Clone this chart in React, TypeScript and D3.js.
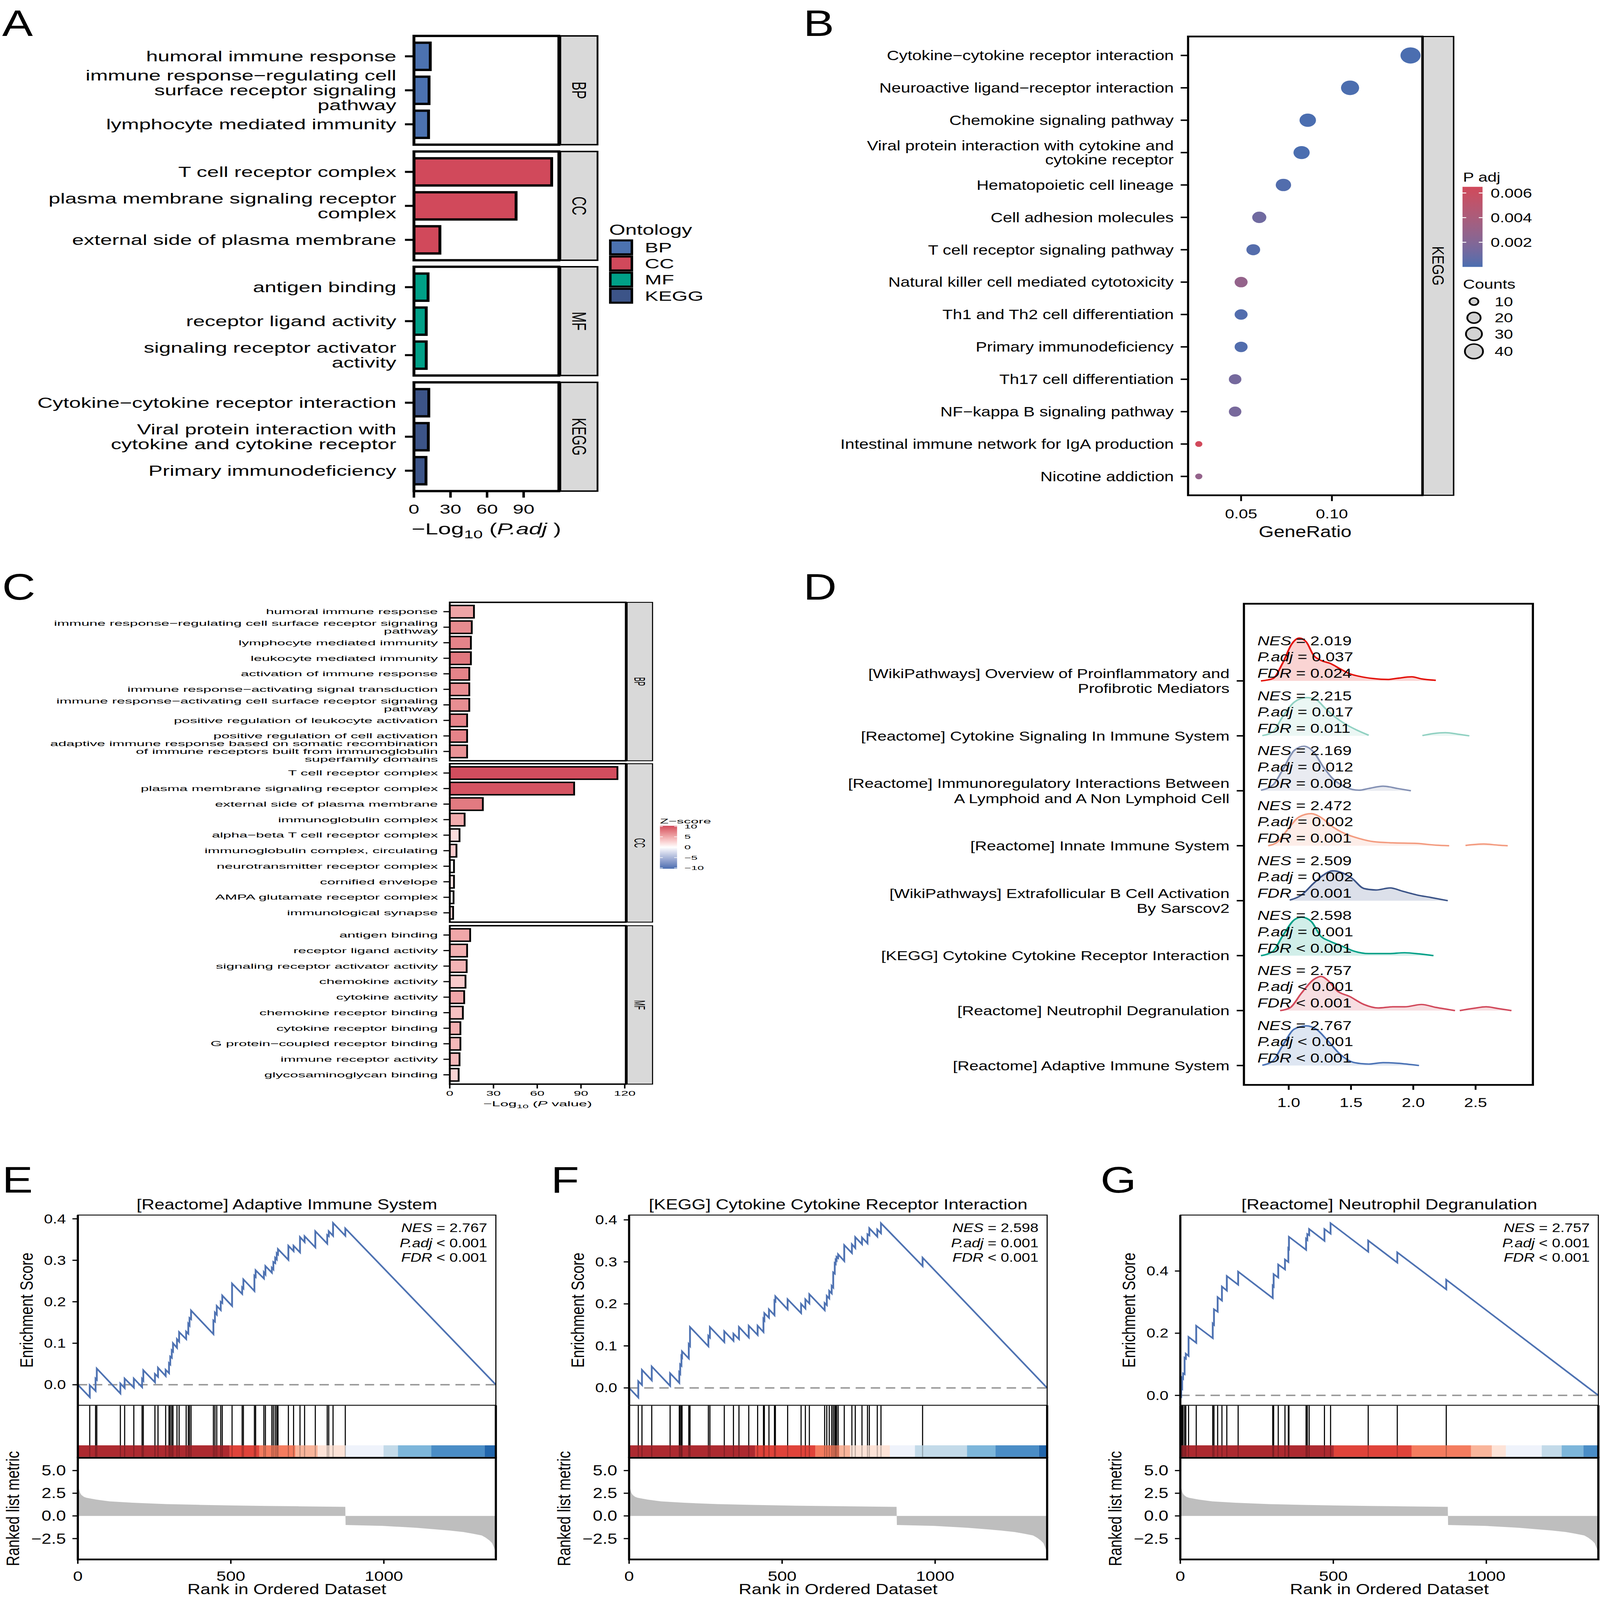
import React from "react";
import * as d3 from "d3";

const FONT = "'Liberation Sans', Arial, Helvetica, sans-serif";

// ================= Panel A data =================
const aTerms = [
  "humoral immune response",
  "immune response−regulating cell\nsurface receptor signaling\npathway",
  "lymphocyte mediated immunity",
  "T cell receptor complex",
  "plasma membrane signaling receptor\ncomplex",
  "external side of plasma membrane",
  "antigen binding",
  "receptor ligand activity",
  "signaling receptor activator\nactivity",
  "Cytokine−cytokine receptor interaction",
  "Viral protein interaction with\ncytokine and cytokine receptor",
  "Primary immunodeficiency",
];
const aOntology = ["BP", "BP", "BP", "CC", "CC", "CC", "MF", "MF", "MF", "KEGG", "KEGG", "KEGG"];
const aLogPadj = [13.4, 12.4, 12.0, 113.0, 83.8, 21.3, 11.6, 10.1, 10.1, 12.2, 11.8, 9.9];
const aOntologyLevels = ["BP", "CC", "MF", "KEGG"];
const aOntologyColors = ["#4C72B0", "#D1495B", "#00A087", "#3C5488"];
const aXTicks = [0, 30, 60, 90];

// ================= Panel B data =================
const bTerms = [
  "Cytokine−cytokine receptor interaction",
  "Neuroactive ligand−receptor interaction",
  "Chemokine signaling pathway",
  "Viral protein interaction with cytokine and\ncytokine receptor",
  "Hematopoietic cell lineage",
  "Cell adhesion molecules",
  "T cell receptor signaling pathway",
  "Natural killer cell mediated cytotoxicity",
  "Th1 and Th2 cell differentiation",
  "Primary immunodeficiency",
  "Th17 cell differentiation",
  "NF−kappa B signaling pathway",
  "Intestinal immune network for IgA production",
  "Nicotine addiction",
];
const bGeneRatio = [0.1433, 0.11, 0.0867, 0.0833, 0.0733, 0.06, 0.0567, 0.05, 0.05, 0.05, 0.0467, 0.0467, 0.0267, 0.0267];
const bCounts = [43, 33, 26, 25, 22, 18, 17, 15, 15, 15, 14, 14, 8, 8];
const bPadj = [0.00002, 0.00004, 0.00003, 0.00003, 0.0002, 0.0012, 0.0003, 0.0028, 0.0002, 0.0002, 0.0014, 0.0015, 0.0065, 0.0028];
const bRatioTicks = [0.05, 0.1];
const bPadjTicks = [0.002, 0.004, 0.006];
const bCountTicks = [10, 20, 30, 40];

// ================= Panel C data =================
const cTerms = [
  "humoral immune response",
  "immune response−regulating cell surface receptor signaling\npathway",
  "lymphocyte mediated immunity",
  "leukocyte mediated immunity",
  "activation of immune response",
  "immune response−activating signal transduction",
  "immune response−activating cell surface receptor signaling\npathway",
  "positive regulation of leukocyte activation",
  "positive regulation of cell activation",
  "adaptive immune response based on somatic recombination\nof immune receptors built from immunoglobulin\nsuperfamily domains",
  "T cell receptor complex",
  "plasma membrane signaling receptor complex",
  "external side of plasma membrane",
  "immunoglobulin complex",
  "alpha−beta T cell receptor complex",
  "immunoglobulin complex, circulating",
  "neurotransmitter receptor complex",
  "cornified envelope",
  "AMPA glutamate receptor complex",
  "immunological synapse",
  "antigen binding",
  "receptor ligand activity",
  "signaling receptor activator activity",
  "chemokine activity",
  "cytokine activity",
  "chemokine receptor binding",
  "cytokine receptor binding",
  "G protein−coupled receptor binding",
  "immune receptor activity",
  "glycosaminoglycan binding",
];
const cOntology = [
  "BP", "BP", "BP", "BP", "BP", "BP", "BP", "BP", "BP", "BP",
  "CC", "CC", "CC", "CC", "CC", "CC", "CC", "CC", "CC", "CC",
  "MF", "MF", "MF", "MF", "MF", "MF", "MF", "MF", "MF", "MF",
];
const cLogP = [
  16.6, 15.1, 14.5, 14.5, 13.4, 13.4, 13.4, 11.9, 11.9, 11.9,
  115.0, 85.3, 22.7, 10.2, 6.7, 4.6, 2.9, 2.9, 2.6, 2.3,
  14.0, 11.9, 11.6, 10.8, 9.9, 9.0, 7.3, 7.3, 6.7, 6.1,
];
const cZ = [
  5.2, 6.6, 7.0, 7.6, 7.0, 6.4, 6.4, 7.0, 7.0, 6.2,
  9.8, 9.5, 7.5, 4.7, 2.0, 3.0, 0.3, 1.5, 0.2, 2.5,
  5.0, 4.5, 4.3, 3.0, 5.0, 3.5, 4.5, 4.0, 4.0, 2.5,
];
const cOntologyLevels = ["BP", "CC", "MF"];
const cXTicks = [0, 30, 60, 90, 120];
const cZTicks = [10, 5, 0, -5, -10];

// ================= Panel D data =================
const dLabels = [
  "[WikiPathways] Overview of Proinflammatory and\nProfibrotic Mediators",
  "[Reactome] Cytokine Signaling In Immune System",
  "[Reactome] Immunoregulatory Interactions Between\nA Lymphoid and A Non Lymphoid Cell",
  "[Reactome] Innate Immune System",
  "[WikiPathways] Extrafollicular B Cell Activation\nBy Sarscov2",
  "[KEGG] Cytokine Cytokine Receptor Interaction",
  "[Reactome] Neutrophil Degranulation",
  "[Reactome] Adaptive Immune System",
];
const dNES = ["= 2.019", "= 2.215", "= 2.169", "= 2.472", "= 2.509", "= 2.598", "= 2.757", "= 2.767"];
const dPadj = ["= 0.037", "= 0.017", "= 0.012", "= 0.002", "= 0.002", "= 0.001", "< 0.001", "< 0.001"];
const dFDR = ["= 0.024", "= 0.011", "= 0.008", "= 0.001", "= 0.001", "< 0.001", "< 0.001", "< 0.001"];
const dColors = ["#E3120B", "#91D1C2", "#8491B4", "#F39B7F", "#3C5488", "#00A087", "#D1495B", "#4A72B5"];
const dXTicks = [1.0, 1.5, 2.0, 2.5];
const dDensity1 = [[[0.777, 0], [0.873, 0.08], [0.95, 0.6], [1.027, 1.29], [1.085, 1.48], [1.142, 1.34], [1.2, 0.88], [1.258, 0.71], [1.335, 0.6], [1.412, 0.42], [1.488, 0.25], [1.565, 0.16], [1.681, 0.08], [1.796, 0.05], [1.873, 0.09], [1.988, 0.14], [2.065, 0.07], [2.181, 0.02]]];
const dDensity2 = [[[0.788, 0.01], [0.873, 0.14], [0.95, 0.65], [1.046, 1.17], [1.142, 1.32], [1.219, 1.25], [1.296, 0.94], [1.373, 0.65], [1.45, 0.42], [1.546, 0.2], [1.642, 0.02]], [[2.073, 0.01], [2.162, 0.08], [2.258, 0.11], [2.354, 0.06], [2.45, 0.0]]];
const dDensity3 = [[[0.777, 0.02], [0.873, 0.2], [0.95, 0.71], [1.046, 1.4], [1.123, 1.54], [1.2, 1.34], [1.277, 0.83], [1.354, 0.42], [1.45, 0.14], [1.565, 0.02], [1.642, 0.08], [1.758, 0.16], [1.873, 0.08], [1.981, 0]]];
const dDensity4 = [[[0.835, 0], [0.912, 0.14], [0.988, 0.54], [1.085, 1.0], [1.181, 1.11], [1.258, 0.98], [1.354, 0.65], [1.45, 0.42], [1.565, 0.25], [1.681, 0.14], [1.835, 0.1], [2.027, 0.08], [2.181, 0.02], [2.288, 0]], [[2.419, 0.01], [2.565, 0.06], [2.681, 0.02], [2.758, 0]]];
const dDensity5 = [[[1.008, 0.02], [1.104, 0.2], [1.2, 0.6], [1.277, 0.88], [1.354, 1.03], [1.431, 0.96], [1.508, 0.77], [1.604, 0.42], [1.7, 0.37], [1.815, 0.44], [1.911, 0.33], [2.027, 0.2], [2.142, 0.11], [2.277, 0]]];
const dDensity6 = [[[0.777, 0], [0.873, 0.15], [0.95, 0.67], [1.046, 1.24], [1.104, 1.33], [1.181, 1.18], [1.258, 0.67], [1.335, 0.49], [1.431, 0.32], [1.527, 0.15], [1.642, 0.07], [1.796, 0.07], [1.931, 0.1], [2.046, 0.06], [2.162, 0]]];
const dDensity7 = [[[0.931, 0], [1.008, 0.09], [1.104, 0.61], [1.2, 1.07], [1.258, 1.18], [1.315, 1.04], [1.392, 0.67], [1.488, 0.49], [1.604, 0.21], [1.719, 0.09], [1.835, 0.13], [1.931, 0.13], [2.065, 0.21], [2.181, 0.11], [2.335, 0]], [[2.373, 0], [2.488, 0.08], [2.585, 0.13], [2.681, 0.07], [2.788, 0]]];
const dDensity8 = [[[0.788, 0.01], [0.873, 0.16], [0.95, 0.68], [1.046, 1.26], [1.142, 1.37], [1.219, 1.26], [1.315, 0.85], [1.412, 0.39], [1.527, 0.1], [1.642, 0.05], [1.758, 0.1], [1.873, 0.08], [2.046, 0]]];
const dDensities = [dDensity1, dDensity2, dDensity3, dDensity4, dDensity5, dDensity6, dDensity7, dDensity8];

// ================= Panels E-G data =================
const N_RANK = 1366;
// [rank of hit, running ES just before hit, running ES just after hit]
const esE = [
  [39, -0.03, -0.001], [58, -0.015, 0.015], [62, 0.012, 0.039], [139, -0.021, 0.003], [153, -0.008, 0.015], [183, -0.007, 0.015],
  [210, -0.006, 0.014], [214, 0.01, 0.035], [252, 0.006, 0.026], [262, 0.019, 0.041], [287, 0.021, 0.036], [298, 0.028, 0.052],
  [302, 0.049, 0.068], [307, 0.065, 0.083], [311, 0.08, 0.1], [324, 0.089, 0.11], [331, 0.104, 0.127], [354, 0.11, 0.128],
  [361, 0.123, 0.147], [365, 0.143, 0.161], [370, 0.158, 0.179], [443, 0.122, 0.155], [448, 0.152, 0.174], [454, 0.169, 0.19],
  [467, 0.18, 0.2], [472, 0.197, 0.215], [504, 0.19, 0.244], [537, 0.219, 0.235], [541, 0.232, 0.254], [577, 0.226, 0.263],
  [581, 0.26, 0.276], [608, 0.256, 0.271], [613, 0.266, 0.286], [634, 0.27, 0.282], [639, 0.278, 0.296], [645, 0.293, 0.306],
  [650, 0.302, 0.317], [654, 0.314, 0.327], [688, 0.301, 0.335], [705, 0.322, 0.335], [726, 0.319, 0.356], [741, 0.344, 0.358],
  [776, 0.331, 0.37], [815, 0.34, 0.361], [820, 0.358, 0.37], [834, 0.359, 0.39], [874, 0.359, 0.377],
];
const esF = [
  [30, -0.023, 0.016], [42, 0.007, 0.043], [74, 0.018, 0.051], [134, 0.005, 0.035], [164, 0.012, 0.037], [167, 0.034, 0.056],
  [171, 0.053, 0.075], [173, 0.073, 0.087], [195, 0.07, 0.104], [199, 0.1, 0.145], [259, 0.099, 0.124], [264, 0.12, 0.145],
  [311, 0.109, 0.135], [341, 0.112, 0.129], [359, 0.116, 0.145], [391, 0.12, 0.148], [420, 0.126, 0.148], [439, 0.133, 0.164],
  [442, 0.161, 0.178], [457, 0.167, 0.187], [475, 0.173, 0.208], [478, 0.206, 0.218], [518, 0.187, 0.211], [562, 0.178, 0.2],
  [576, 0.189, 0.211], [589, 0.201, 0.223], [639, 0.185, 0.202], [646, 0.197, 0.219], [654, 0.213, 0.231], [662, 0.225, 0.243],
  [667, 0.239, 0.275], [672, 0.272, 0.297], [675, 0.295, 0.305], [678, 0.303, 0.312], [683, 0.309, 0.318], [703, 0.302, 0.34],
  [728, 0.321, 0.342], [739, 0.333, 0.359], [761, 0.342, 0.358], [779, 0.344, 0.366], [785, 0.363, 0.38], [811, 0.36, 0.377],
  [823, 0.368, 0.392], [959, 0.29, 0.31],
];
const esG = [
  [3, -0.003, 0.022], [6, 0.02, 0.057], [9, 0.054, 0.071], [14, 0.068, 0.121], [18, 0.118, 0.134], [27, 0.127, 0.188],
  [52, 0.169, 0.224], [106, 0.184, 0.231], [110, 0.227, 0.277], [122, 0.269, 0.316], [136, 0.305, 0.35], [152, 0.337, 0.384],
  [189, 0.356, 0.398], [302, 0.313, 0.353], [305, 0.35, 0.39], [320, 0.379, 0.421], [342, 0.405, 0.437], [353, 0.429, 0.473],
  [355, 0.471, 0.51], [411, 0.468, 0.504], [415, 0.5, 0.519], [421, 0.515, 0.535], [471, 0.497, 0.535], [491, 0.52, 0.554],
  [614, 0.462, 0.498], [709, 0.427, 0.46], [869, 0.341, 0.372],
];
const metricRank = [0, 2, 5, 8, 12, 20, 28, 45, 61, 104, 180, 289, 400, 506, 620, 724, 874, 875, 996, 1104, 1213, 1260, 1289, 1320, 1333, 1345, 1354, 1360, 1366];
const metricValue = [3.7, 3.2, 2.8, 2.5, 2.3, 2.1, 2.0, 1.9, 1.8, 1.6, 1.45, 1.3, 1.22, 1.15, 1.1, 1.06, 1.0, -1.0, -1.1, -1.3, -1.6, -1.78, -1.95, -2.15, -2.4, -2.7, -3.0, -3.5, -4.1];
const stripColors = ["#AD2A30", "#E0433A", "#F47C5F", "#F9B59B", "#FDE3D7", "#EFF3FB", "#C3DAE9", "#7DB6DA", "#4A8DC6", "#2266AC"];
const stripBreaksE = [0, 496, 593, 711, 784, 874, 999, 1046, 1155, 1329, 1366];
const stripBreaksF = [0, 412, 609, 687, 722, 852, 934, 1104, 1197, 1339, 1366];
const stripBreaksG = [0, 502, 756, 950, 1018, 1064, 1181, 1246, 1317, 1361, 1366];
const gseaTitles = ["[Reactome] Adaptive Immune System", "[KEGG] Cytokine Cytokine Receptor Interaction", "[Reactome] Neutrophil Degranulation"];
const gseaNES = ["= 2.767", "= 2.598", "= 2.757"];
const gseaPadj = ["< 0.001", "= 0.001", "< 0.001"];
const gseaFDR = ["< 0.001", "< 0.001", "< 0.001"];
const esTicksEF = [0, 0.1, 0.2, 0.3, 0.4];
const esTicksG = [0, 0.2, 0.4];
const metricTicks = [5, 2.5, 0, -2.5];
const rankTicks = [0, 500, 1000];

// ================= helpers =================
function Txt({ x, y, fs, anchor = "start", sx = 1, sy = 1, rot = 0, lh = 0, italic = false, fill = "#000", text }: any) {
  const lines = String(text).split("\n");
  const n = lines.length;
  return (
    <text
      transform={`translate(${x},${y}) scale(${sx},${sy}) rotate(${rot})`}
      fontSize={fs}
      textAnchor={anchor}
      fill={fill}
      fontStyle={italic ? "italic" : "normal"}
    >
      {lines.map((l: string, i: number) => (
        <tspan key={i} x={0} y={(i - (n - 1) / 2) * lh} dy="0.35em">
          {l}
        </tspan>
      ))}
    </text>
  );
}

// ================= Panel A =================
function PanelA() {
  const SX = 1.176;
  const x = d3.scaleLinear().domain([0, 118.9]).range([1151, 1554]);
  const tops = [124, 523, 921, 1320];
  const H = 375.5;
  const color = d3.scaleOrdinal<string, string>().domain(aOntologyLevels).range(aOntologyColors);
  return (
    <g>
      {aOntologyLevels.map((ont, pi) => {
        const top = tops[pi];
        const idx = aTerms.map((_, i) => i).filter((i) => aOntology[i] === ont);
        const y = d3.scaleLinear().domain([-0.6, idx.length - 1 + 0.6]).range([top, top + H]);
        const bh = (y(1) - y(0)) * 0.8;
        return (
          <g key={ont}>
            <rect x={1151} y={top} width={403} height={H} fill="#fff" />
            {idx.map((i, k) => (
              <g key={i}>
                <rect x={x(0)} y={y(k) - bh / 2} width={x(aLogPadj[i]) - x(0)} height={bh} fill={color(ont)} stroke="#000" strokeWidth={8} />
                <line x1={1126} x2={1151} y1={y(k)} y2={y(k)} stroke="#000" strokeWidth={7} />
                <Txt x={1102} y={y(k)} fs={50} sx={SX} anchor="end" lh={51} text={aTerms[i]} />
              </g>
            ))}
            <rect x={1151} y={top} width={403} height={H} fill="none" stroke="#000" strokeWidth={8} />
            <rect x={1558} y={top} width={103.5} height={H} fill="#D9D9D9" stroke="#000" strokeWidth={5} />
            <g transform={`translate(${1610},${top + H / 2}) scale(1.2,1) rotate(90)`}>
              <text fontSize={45} textAnchor="middle" dy="0.35em">{ont}</text>
            </g>
          </g>
        );
      })}
      {aXTicks.map((v) => (
        <g key={v}>
          <line x1={x(v)} x2={x(v)} y1={1695} y2={1718} stroke="#000" strokeWidth={7} />
          <Txt x={x(v)} y={1758} fs={46} sx={SX} anchor="middle" text={String(v)} />
        </g>
      ))}
      <text transform={`translate(1352.5,1825) scale(${SX},1)`} fontSize={55} textAnchor="middle">
        <tspan dy="0.35em">−Log</tspan>
        <tspan fontSize={40} dy={14}>10</tspan>
        <tspan dy={-14}> (</tspan>
        <tspan fontStyle="italic">P.adj</tspan>
        <tspan> )</tspan>
      </text>
      <Txt x={1694} y={794} fs={49} sx={SX} text="Ontology" />
      {aOntologyLevels.map((o, i) => {
        const cy = 854 + i * 55.7;
        return (
          <g key={o}>
            <rect x={1697} y={cy - 24} width={60} height={48} fill={color(o)} stroke="#000" strokeWidth={7} />
            <Txt x={1793} y={cy} fs={48} sx={SX} text={o} />
          </g>
        );
      })}
    </g>
  );
}

// ================= Panel B =================
function PanelB() {
  const x = d3.scaleLinear().domain([0.0208, 0.1498]).range([3303.6, 3955]);
  const y = (i: number) => 191.4 + i * 111.8;
  const pMax = 0.0065;
  const pColor = d3.scaleLinear<string>().domain([0, pMax]).range(["#4A6EB0", "#D1495B"]).interpolate(d3.interpolateLab);
  const norm = d3.scaleLinear().domain([8, 43]).range([0, 1]);
  const rad = (c: number) => d3.scaleLinear().domain([0, 1]).range([10, 28])(Math.sqrt(Math.max(0, norm(c))));
  const legY = d3.scaleLinear().domain([0, pMax]).range([921.5, 645]);
  const stops = d3.range(0, 1.0001, 0.1);
  return (
    <g>
      <defs>
        <linearGradient id="pgrad" x1="0" y1="1" x2="0" y2="0">
          {stops.map((s) => (
            <stop key={s} offset={s} stopColor={pColor(s * pMax)} />
          ))}
        </linearGradient>
      </defs>
      <rect x={3303.6} y={126} width={651.4} height={1584} fill="#fff" />
      {bTerms.map((t, i) => (
        <g key={i}>
          <line x1={3283} x2={3303.6} y1={y(i)} y2={y(i)} stroke="#000" strokeWidth={5} />
          <Txt x={3263.7} y={y(i)} fs={47} anchor="end" lh={49} text={t} />
        </g>
      ))}
      {bTerms.map((t, i) => (
        <circle key={i} cx={x(bGeneRatio[i])} cy={y(i)} r={rad(bCounts[i])} fill={pColor(bPadj[i])} />
      ))}
      <rect x={3303.6} y={126} width={651.4} height={1584} fill="none" stroke="#000" strokeWidth={6} />
      <rect x={3957} y={126} width={85} height={1584} fill="#D9D9D9" stroke="#000" strokeWidth={4} />
      <g transform={`translate(3999.5,918) rotate(90)`}>
        <text fontSize={47} textAnchor="middle" dy="0.35em">KEGG</text>
      </g>
      {bRatioTicks.map((v) => (
        <g key={v}>
          <line x1={x(v)} x2={x(v)} y1={1710} y2={1730} stroke="#000" strokeWidth={5} />
          <Txt x={x(v)} y={1773} fs={46} anchor="middle" text={d3.format(".2f")(v)} />
        </g>
      ))}
      <Txt x={3629} y={1836} fs={54} anchor="middle" text="GeneRatio" />
      <Txt x={4068} y={611} fs={46} text="P adj" />
      <rect x={4066.7} y={645} width={55.7} height={276.5} fill="url(#pgrad)" />
      {bPadjTicks.map((v) => (
        <g key={v}>
          <line x1={4066.7} x2={4077} y1={legY(v)} y2={legY(v)} stroke="#fff" strokeWidth={3} />
          <line x1={4112} x2={4122.4} y1={legY(v)} y2={legY(v)} stroke="#fff" strokeWidth={3} />
          <Txt x={4145} y={legY(v)} fs={46} text={d3.format(".3f")(v)} />
        </g>
      ))}
      <Txt x={4068} y={981} fs={46} text="Counts" />
      {bCountTicks.map((v, i) => {
        const cy = [1041, 1097, 1153, 1213][i];
        return (
          <g key={v}>
            <circle cx={4098.5} cy={cy} r={rad(v) - 2} fill="#D3D3D3" stroke="#000" strokeWidth={5} />
            <Txt x={4156} y={cy} fs={46} text={String(v)} />
          </g>
        );
      })}
    </g>
  );
}

// ================= Panel C =================
function PanelC() {
  const SX = 1.65;
  const x = d3.scaleLinear().domain([0, 120.7]).range([1250.6, 1740]);
  const tops = [2079.6, 2636.7, 3196];
  const H = 547;
  const zColor = d3.scaleLinear<string>().domain([-10, 0, 10]).range(["#4A6EB0", "#FFFFFF", "#D1495B"]).interpolate(d3.interpolateLab).clamp(true);
  const zY = d3.scaleLinear().domain([-10, 10]).range([2996.7, 2853.3]);
  const stops = d3.range(0, 1.0001, 0.05);
  return (
    <g>
      <defs>
        <linearGradient id="zgrad" x1="0" y1="1" x2="0" y2="0">
          {stops.map((s) => (
            <stop key={s} offset={s} stopColor={zColor(-10 + 20 * s)} />
          ))}
        </linearGradient>
      </defs>
      {cOntologyLevels.map((ont, pi) => {
        const top = tops[pi];
        const idx = cTerms.map((_, i) => i).filter((i) => cOntology[i] === ont);
        const y = d3.scaleLinear().domain([-0.6, idx.length - 1 + 0.6]).range([top, top + H]);
        const bh = (y(1) - y(0)) * 0.8;
        return (
          <g key={ont}>
            <rect x={1250.6} y={top} width={489.4} height={H} fill="#fff" />
            {idx.map((i, k) => (
              <g key={i}>
                <rect x={x(0)} y={y(k) - bh / 2} width={x(cLogP[i]) - x(0)} height={bh} fill={zColor(cZ[i])} stroke="#000" strokeWidth={5} />
                <line x1={1233} x2={1250.6} y1={y(k)} y2={y(k)} stroke="#000" strokeWidth={4} />
                <Txt x={1217.6} y={y(k)} fs={24.5} sx={SX} anchor="end" lh={27} text={cTerms[i]} />
              </g>
            ))}
            <rect x={1250.6} y={top} width={489.4} height={H} fill="none" stroke="#000" strokeWidth={5} />
            <rect x={1743.7} y={top} width={70.8} height={H} fill="#D9D9D9" stroke="#000" strokeWidth={3} />
            <g transform={`translate(${1779},${top + H / 2}) scale(1,0.53) rotate(90)`}>
              <text fontSize={43} textAnchor="middle" dy="0.35em">{ont}</text>
            </g>
          </g>
        );
      })}
      {cXTicks.map((v) => (
        <g key={v}>
          <line x1={x(v)} x2={x(v)} y1={3743} y2={3758} stroke="#000" strokeWidth={4} />
          <Txt x={x(v)} y={3775} fs={22} sx={SX} anchor="middle" text={String(v)} />
        </g>
      ))}
      <text transform={`translate(1495,3811) scale(${SX},1)`} fontSize={25} textAnchor="middle">
        <tspan dy="0.35em">−Log</tspan>
        <tspan fontSize={18} dy={6}>10</tspan>
        <tspan dy={-6}> (</tspan>
        <tspan fontStyle="italic">P</tspan>
        <tspan> value)</tspan>
      </text>
      <Txt x={1835} y={2835} fs={23} sx={1.7} text="Z−score" />
      <rect x={1835} y={2851} width={47.7} height={148.3} fill="url(#zgrad)" />
      {cZTicks.map((v) => (
        <g key={v}>
          <line x1={1835} x2={1843} y1={zY(v)} y2={zY(v)} stroke="#fff" strokeWidth={2} />
          <line x1={1874.7} x2={1882.7} y1={zY(v)} y2={zY(v)} stroke="#fff" strokeWidth={2} />
          <Txt x={1903} y={zY(v)} fs={20} sx={1.6} text={d3.format("d")(v)} />
        </g>
      ))}
    </g>
  );
}

// ================= Panel D =================
function PanelD() {
  const L = 3458.9, R = 4262.4, T = 2084.4, B = 3745.6;
  const x = d3.scaleLinear().domain([0.6406, 2.96]).range([L, R]);
  const base = d3.scaleLinear().domain([0, 7]).range([2350.8, 3678.7]);
  const h = d3.scaleLinear().domain([0, 1]).range([0, 100]);
  return (
    <g>
      <defs>
        <clipPath id="dclip">
          <rect x={L} y={T} width={R - L} height={B - T} />
        </clipPath>
      </defs>
      <g clipPath="url(#dclip)">
        {dDensities.map((segs, i) => {
          const b = base(i);
          const area = d3.area<any>().x((d) => x(d[0])).y0(b).y1((d) => b - h(d[1])).curve(d3.curveMonotoneX);
          const line = d3.line<any>().x((d) => x(d[0])).y((d) => b - h(d[1])).curve(d3.curveMonotoneX);
          return (
            <g key={i}>
              {segs.map((s: any, k: number) => (
                <g key={k}>
                  <path d={area(s) || ""} fill={dColors[i]} fillOpacity={0.18} />
                  <path d={line(s) || ""} fill="none" stroke={dColors[i]} strokeWidth={5} />
                </g>
              ))}
            </g>
          );
        })}
      </g>
      {dLabels.map((t, i) => {
        const b = base(i);
        return (
          <g key={i}>
            <line x1={3438.8} x2={L} y1={b} y2={b} stroke="#000" strokeWidth={5} />
            <Txt x={3418.7} y={b} fs={46} anchor="end" lh={51.7} text={t} />
            <text x={3496.4} y={b - 139} fontSize={46} dy="0.35em">
              <tspan fontStyle="italic">NES</tspan>
              <tspan> {dNES[i]}</tspan>
            </text>
            <text x={3496.4} y={b - 83} fontSize={46} dy="0.35em">
              <tspan fontStyle="italic">P.adj</tspan>
              <tspan> {dPadj[i]}</tspan>
            </text>
            <text x={3496.4} y={b - 26.5} fontSize={46} dy="0.35em">
              <tspan fontStyle="italic">FDR</tspan>
              <tspan> {dFDR[i]}</tspan>
            </text>
          </g>
        );
      })}
      <rect x={L} y={T} width={R - L} height={B - T} fill="none" stroke="#000" strokeWidth={6} />
      {dXTicks.map((v) => (
        <g key={v}>
          <line x1={x(v)} x2={x(v)} y1={B} y2={B + 17} stroke="#000" strokeWidth={5} />
          <Txt x={x(v)} y={3806} fs={46} anchor="middle" text={d3.format(".1f")(v)} />
        </g>
      ))}
    </g>
  );
}

// ================= Panels E-G =================
function Gsea({ left, idx, es, yDomain, yTicks, breaks }: any) {
  const W = 1162.4;
  const right = left + W;
  const T0 = 4195, T1 = 4851.7, M0 = 4853, S0 = 4990, S1 = 5030, B0 = 5033, B1 = 5384;
  const x = d3.scaleLinear().domain([0, N_RANK]).range([left, right]);
  const y = d3.scaleLinear().domain(yDomain).range([T1, T0]);
  const yb = d3.scaleLinear().domain([-4.8, 6.41]).range([B1, B0]);
  const pts: [number, number][] = [[0, 0]];
  es.forEach((e: number[]) => {
    pts.push([e[0], e[1]]);
    pts.push([e[0], e[2]]);
  });
  pts.push([N_RANK, 0]);
  const line = d3.line<[number, number]>().x((d) => x(d[0])).y((d) => y(d[1]));
  const metric = metricRank.map((r, i) => [r, metricValue[i]] as [number, number]);
  const area = d3.area<[number, number]>().x((d) => x(d[0])).y0(yb(0)).y1((d) => yb(d[1]));
  const hits = es.map((e: number[]) => e[0]);
  const fmt1 = d3.format(".1f");
  return (
    <g>
      <Txt x={(left + right) / 2} y={4158} fs={50} anchor="middle" text={gseaTitles[idx]} />
      <line x1={left} x2={right} y1={y(0)} y2={y(0)} stroke="#999" strokeWidth={5} strokeDasharray="26 16" />
      <path d={line(pts) || ""} fill="none" stroke="#4E72B2" strokeWidth={5} />
      <rect x={left} y={T0} width={W} height={T1 - T0} fill="none" stroke="#000" strokeWidth={3} />
      <line x1={left} x2={left} y1={T0} y2={T1} stroke="#000" strokeWidth={6} />
      {yTicks.map((v: number) => (
        <g key={v}>
          <line x1={left - 15} x2={left} y1={y(v)} y2={y(v)} stroke="#000" strokeWidth={4} />
          <Txt x={left - 33} y={y(v)} fs={44} anchor="end" text={fmt1(v)} />
        </g>
      ))}
      <text x={right - 24} y={4239} fontSize={42} textAnchor="end" dy="0.35em">
        <tspan fontStyle="italic">NES</tspan>
        <tspan> {gseaNES[idx]}</tspan>
      </text>
      <text x={right - 24} y={4291} fontSize={42} textAnchor="end" dy="0.35em">
        <tspan fontStyle="italic">P.adj</tspan>
        <tspan> {gseaPadj[idx]}</tspan>
      </text>
      <text x={right - 24} y={4342} fontSize={42} textAnchor="end" dy="0.35em">
        <tspan fontStyle="italic">FDR</tspan>
        <tspan> {gseaFDR[idx]}</tspan>
      </text>
      <Txt x={left - 142.7} y={(T0 + T1) / 2} fs={50} anchor="middle" rot={-90} text="Enrichment Score" />
      {stripColors.map((c, i) => (
        <rect key={i} x={x(breaks[i])} y={S0} width={x(breaks[i + 1]) - x(breaks[i])} height={S1 - S0} fill={c} />
      ))}
      {hits.map((r: number, i: number) => (
        <g key={i}>
          <line x1={x(r)} x2={x(r)} y1={M0} y2={S0} stroke="#000" strokeWidth={3} />
          <line x1={x(r)} x2={x(r)} y1={S0} y2={S1} stroke="#000" strokeOpacity={0.25} strokeWidth={3} />
        </g>
      ))}
      <line x1={left} x2={left} y1={T1} y2={B0} stroke="#000" strokeWidth={6} />
      <line x1={right} x2={right} y1={T1} y2={B0} stroke="#000" strokeWidth={6} />
      <path d={area(metric) || ""} fill="#BEBEBE" />
      <rect x={left} y={B0} width={W} height={B1 - B0} fill="none" stroke="#000" strokeWidth={6} />
      {metricTicks.map((v) => (
        <g key={v}>
          <line x1={left - 15} x2={left} y1={yb(v)} y2={yb(v)} stroke="#000" strokeWidth={4} />
          <Txt x={left - 33} y={yb(v)} fs={49} anchor="end" text={fmt1(v)} />
        </g>
      ))}
      {rankTicks.map((v) => (
        <g key={v}>
          <line x1={x(v)} x2={x(v)} y1={B1} y2={B1 + 15} stroke="#000" strokeWidth={4} />
          <Txt x={x(v)} y={5441} fs={48} anchor="middle" text={String(v)} />
        </g>
      ))}
      <Txt x={(left + right) / 2} y={5486} fs={50} anchor="middle" text="Rank in Ordered Dataset" />
      <Txt x={left - 181} y={(B0 + B1) / 2} fs={50} anchor="middle" rot={-90} text="Ranked list metric" />
    </g>
  );
}

export default function App() {
  return (
    <svg
      viewBox="0 0 4449 5524"
      preserveAspectRatio="none"
      style={{ position: "fixed", left: 0, top: 0, width: "100vw", height: "100vh", display: "block", background: "#fff" }}
      fontFamily={FONT}
    >
      <rect x={0} y={0} width={4449} height={5524} fill="#fff" />
      <PanelA />
      <PanelB />
      <PanelC />
      <PanelD />
      <Gsea left={216.4} idx={0} es={esE} yDomain={[-0.0495, 0.409]} yTicks={esTicksEF} breaks={stripBreaksE} />
      <Gsea left={1749.3} idx={1} es={esF} yDomain={[-0.0413, 0.4114]} yTicks={esTicksEF} breaks={stripBreaksF} />
      <Gsea left={3282} idx={2} es={esG} yDomain={[-0.0318, 0.58]} yTicks={esTicksG} breaks={stripBreaksG} />
      {[
        ["A", 6, 124],
        ["B", 2234, 124],
        ["C", 6, 2070],
        ["D", 2234, 2070],
        ["E", 6, 4118],
        ["F", 1532, 4118],
        ["G", 3060, 4118],
      ].map(([t, px, py]) => (
        <text key={t as string} x={px as number} y={py as number} fontSize={128}>
          {t}
        </text>
      ))}
    </svg>
  );
}
